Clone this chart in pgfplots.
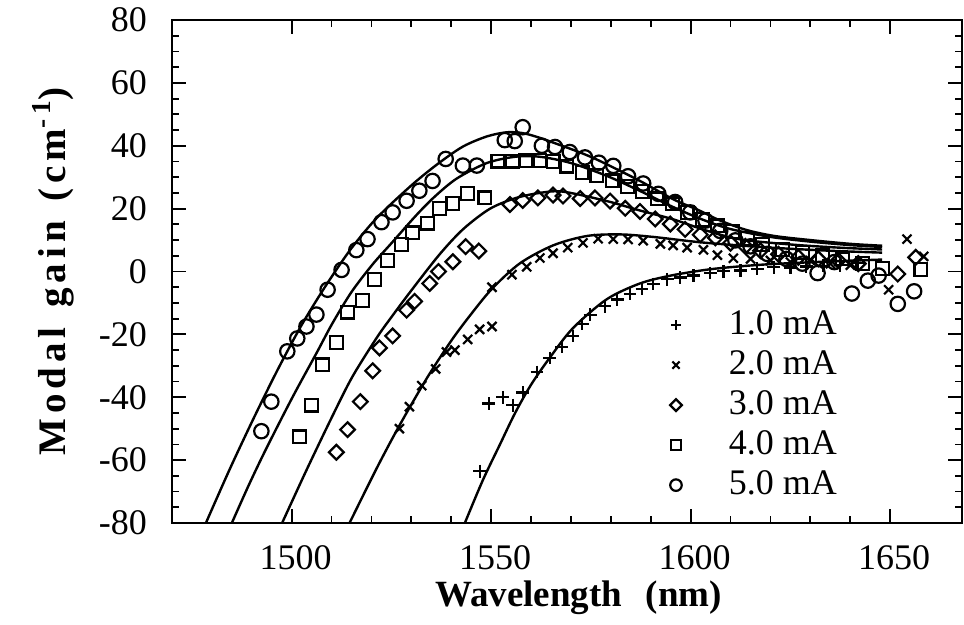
\documentclass[border=0pt]{standalone}
\usepackage{fontspec}
\setmainfont{Liberation Serif}
\newfontfamily\spaced[LetterSpace=13]{Liberation Serif}
\usepackage{pgfplots}
\pgfplotsset{compat=1.18}

\begin{document}
\begin{tikzpicture}
\useasboundingbox (-86pt,-51pt) rectangle (396pt,261.5pt);
\begin{axis}[
    scale only axis,
    width=395pt, height=251.5pt,
    xmin=1470, xmax=1668,
    ymin=-80, ymax=80,
    xtick={1500,1550,1600,1650},
    minor x tick num=4,
    ytick={-80,-60,-40,-20,0,20,40,60,80},
    minor y tick num=3,
    tick align=inside,
    major tick length=7pt, minor tick length=3.5pt,
    every tick/.style={black, line width=0.9pt},
    axis line style={line width=1pt},
    /pgf/number format/1000 sep={},
    /pgf/number format/assume math mode=true,
    ticklabel style={font=\fontsize{18}{21}\selectfont},
    xticklabel style={yshift=-7.5pt, xshift=2pt},
    yticklabel style={xshift=-9pt},
    xlabel={\bfseries Wavelength\hspace{0.64em}(nm)},
    xlabel style={at={(axis description cs:0.5146,-0.167)}, anchor=base, font=\fontsize{18.5}{21}\selectfont},
    ylabel={\spaced\bfseries Modal\hspace{0.5em}gain\hspace{0.5em}(cm\textsuperscript{-\,1})},
    ylabel style={at={(axis description cs:-0.1506,0.5)}, anchor=center, font=\fontsize{19.5}{22}\selectfont},
    legend style={at={(axis description cs:0.630,0.425)}, anchor=north west,
        draw=none, fill=none, inner sep=0pt,
        font=\fontsize{18}{21}\selectfont,
        nodes={inner sep=0pt, text height=12.5pt, text depth=3pt},
        row sep=4.5pt, column sep=23.5pt},
    legend cell align=left,
    legend image code/.code={\draw[mark repeat=2,mark phase=2,#1,every mark/.append style={scale=0.8}] plot coordinates {(0pt,0pt)(10pt,0pt)(20pt,0pt)};},
    curve/.style={black, line width=1.2pt, smooth, no markers, forget plot},
    pts/.style={black, only marks, line width=1.1pt, mark options={solid}},
]

% fitted curves
\addplot[curve] coordinates {(1543.4,-80) (1547.9,-66.4) (1552.2,-55) (1556,-45) (1560,-36) (1564.7,-27.4) (1570.5,-18) (1579,-8.8) (1587.3,-3.8) (1595,-1.3) (1604.2,0.6) (1612,1.6) (1620.8,2.4) (1635,3.2) (1648,3.8)};
\addplot[curve] coordinates {(1514.5,-80) (1521.3,-62.6) (1527,-49) (1533.8,-34.1) (1540,-22) (1545,-13.5) (1550.2,-5.5) (1557.2,2.6) (1565.5,8.3) (1574,11.3) (1582.3,11.8) (1590.6,11) (1603.2,9.2) (1620,7.6) (1635,6.6) (1648,6)};
\addplot[curve] coordinates {(1497.6,-80) (1503.7,-63.2) (1510.2,-46) (1515.2,-33.5) (1521.3,-21.1) (1525,-14.5) (1530,-6) (1537.1,5.5) (1543,13.5) (1549.6,19.9) (1556,23.3) (1562.2,25) (1568,25.4) (1579,22.4) (1587,19.5) (1595.6,16.6) (1604,13) (1612.5,10.2) (1625,8.6) (1637,7.6) (1648,7)};
\addplot[curve] coordinates {(1485,-80) (1489.3,-67.8) (1493.6,-56.4) (1500.2,-40) (1506.2,-26) (1510.2,-16.5) (1515,-6.5) (1520.3,2.3) (1525,9) (1531.3,18) (1536,24) (1541.4,29.6) (1548.9,34.5) (1556,36.5) (1562.2,36.5) (1570,34.5) (1579,30.4) (1587,25.8) (1595.6,20.5) (1603,16.5) (1610,13.5) (1620,11) (1630,9.5) (1640,8.4) (1648,7.8)};
\addplot[curve] coordinates {(1478.5,-80) (1484.5,-62.8) (1490.5,-46.6) (1496.5,-31.2) (1502.5,-17) (1508.5,-4.6) (1514.5,6.6) (1520,15.2) (1524.5,21) (1531,28.5) (1537,34.6) (1543,39.8) (1549,43) (1554,44.3) (1558,44) (1562,42.6) (1566,40.8) (1572,38) (1577,35.3) (1587,29) (1595.6,23) (1602,19.5) (1607.4,16.2) (1614,13.2) (1621,11.3) (1630,10) (1640,8.8) (1648,8.2)};

% measured points
\addplot[pts, mark=+, mark size=3.2pt] coordinates {
(1547.1,-63.5) (1549.4,-42) (1552.9,-40) (1555.4,-42.5) (1557.9,-38.5) (1561.5,-32) (1564.7,-27.5)
(1567.7,-24) (1570.5,-20.5) (1572.8,-16.7) (1574.8,-13.8) (1578.5,-11.1) (1581.6,-8.9) (1584.8,-7.1)
(1587.8,-5.5) (1590.6,-4.0) (1594.1,-2.5) (1597.4,-1.9) (1600.7,-1.3) (1604.9,-0.5) (1608.2,0.1)
(1612.5,0.3) (1616.7,0.9) (1620.8,1.4) (1625,1.3) (1629,1.6) (1633.3,1.8) (1637.5,2.0) (1641.9,2.6)};
\addlegendentry{1.0 mA}
\addplot[pts, mark=x, mark size=3.2pt] coordinates {
(1527,-50) (1529.5,-43) (1532.6,-36.3) (1536.1,-31) (1538.8,-25.6) (1540.9,-25) (1544.1,-21.6)
(1547.1,-18.4) (1550.2,-17.5) (1550.2,-5) (1555.2,-1.0) (1558.9,1.5) (1562.2,4.3) (1565.5,5.8)
(1569.2,7.6) (1573,9.1) (1576.8,10.4) (1580.6,10.3) (1584.3,10.2) (1588.1,9.8) (1592.4,8.8)
(1595.6,8.3) (1599.1,7.6) (1603.2,6.9) (1606.7,5.2) (1610.7,4.2) (1615,4) (1620,3.5) (1625,3)
(1630,3.5) (1635,2.5) (1640,2) (1649.6,-5.8) (1654.2,10.3) (1658.4,4.8)};
\addlegendentry{2.0 mA}
\addplot[pts, mark=square, mark size=2.6pt, mark options={rotate=45}] coordinates {
(1511.2,-57.5) (1514,-50.3) (1517.2,-41.4) (1520.3,-31.6) (1522,-24.3) (1525.3,-20.5) (1528.8,-12.3)
(1530.8,-9.5) (1534.6,-3.8) (1536.8,0) (1540.4,3.1) (1543.6,7.9) (1546.9,6.5) (1554.7,21.3)
(1557.9,22.6) (1561.7,23.4) (1565.5,24.3) (1568,24) (1572.3,23.2) (1576,23.4) (1579.8,22.4)
(1583.6,20.1) (1587.3,19.1) (1591.1,16.7) (1594.9,15.1) (1598.6,13.4) (1602.4,11.7) (1606.2,10.7)
(1610,9) (1613.7,8) (1617.5,6.6) (1622,5.5) (1627,4.5) (1632,4) (1637,3.5) (1642,2.5)
(1651.9,-0.8) (1656.4,4.5)};
\addlegendentry{3.0 mA}
\addplot[pts, mark=square, mark size=3.2pt] coordinates {
(1501.9,-52.6) (1504.9,-42.5) (1507.7,-29.7) (1511.2,-22.5) (1514,-12.9) (1517.7,-9.2) (1520.8,-2.5)
(1524,3.5) (1527.5,8.5) (1530.3,12.3) (1534.1,15.4) (1537.1,20.1) (1540.4,21.7) (1544.1,24.8)
(1548.4,23.4) (1551.7,35.1) (1555.4,35.1) (1558.7,35.3) (1562.2,35.3) (1565.5,34.9) (1569,33.5)
(1572.8,31.5) (1576.5,30.5) (1580.3,28.8) (1584.1,27.1) (1587.8,25.5) (1591.6,23.1) (1595.4,21.5)
(1599.1,18.8) (1602.9,16.5) (1606.7,14.5) (1610.5,12.8) (1614.2,10.5) (1618,8.5) (1623,7)
(1628,6) (1633,5) (1638,4) (1643,2.5) (1648,1) (1657.7,0.7)};
\addlegendentry{4.0 mA}
\addplot[pts, mark=o, mark size=3.6pt] coordinates {
(1492.4,-50.8) (1494.9,-41.4) (1498.9,-25.4) (1501.4,-21.3) (1503.7,-17.5) (1506.2,-13.7) (1509,-5.8)
(1512.5,0.5) (1516.2,6.8) (1519,10.3) (1522.5,15.7) (1525.3,18.8) (1528.8,22.5) (1532,25.7)
(1535.3,28.8) (1538.6,35.8) (1542.9,33.7) (1546.4,33.7) (1553.4,41.8) (1555.9,41.5) (1557.9,45.9)
(1562.7,40) (1566,39.6) (1569.7,38) (1573.5,36.3) (1577,34.6) (1580.6,33.6) (1584.3,30.3)
(1588.1,28) (1591.9,24.7) (1596.1,22.1) (1599.9,18.8) (1603.7,16.2) (1607.4,12.9) (1611.2,9.9)
(1615,8) (1619.2,5.6) (1624,4) (1628,2.5) (1631.8,-0.5) (1636,3) (1640.4,-7) (1644.4,-2.9)
(1647.1,-1.3) (1651.9,-10.3) (1656,-6.3)};
\addlegendentry{5.0 mA}
\end{axis}
\end{tikzpicture}
\end{document}
